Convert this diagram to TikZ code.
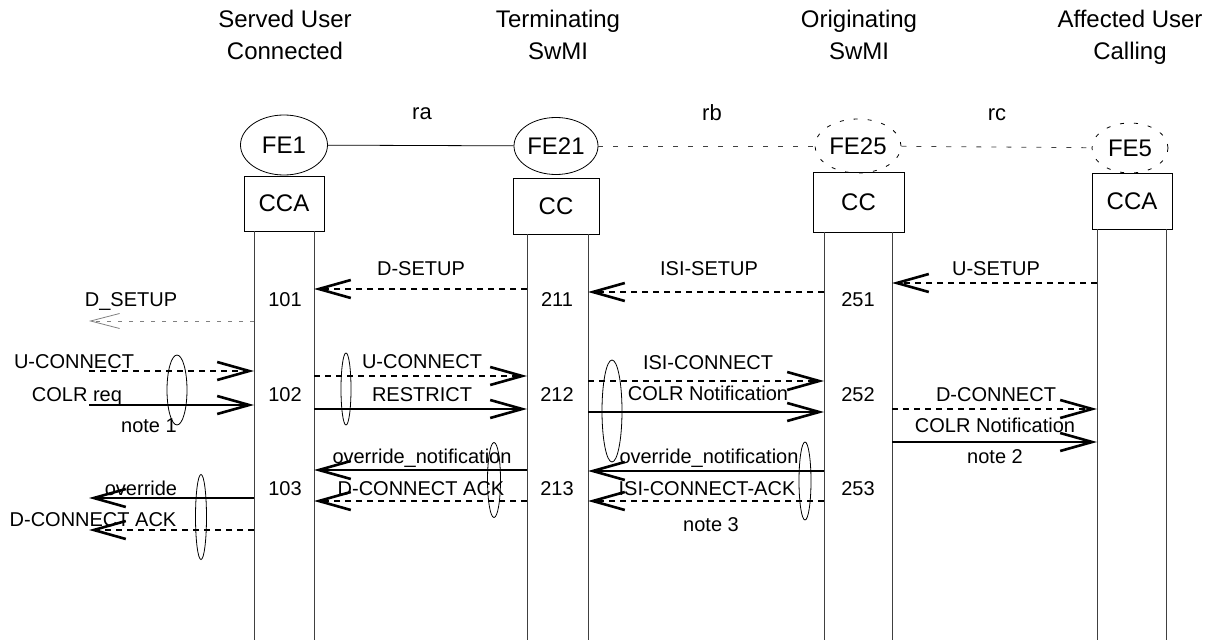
\documentclass[tikz,border=0pt]{standalone}
\usepackage{fontspec}
\setmainfont{Liberation Sans}
\usetikzlibrary{arrows.meta,shapes.geometric}

\begin{document}
\begin{tikzpicture}[x=1pt,y=-1pt,
	every node/.style={inner sep=0pt,font=\fontsize{20}{24}\selectfont},
	title/.style={align=center,anchor=north,font=\fontsize{24}{32}\selectfont},
	rlbl/.style={anchor=base,font=\fontsize{22}{26}\selectfont},
	fe/.style={ellipse,draw,line width=0.8pt,font=\fontsize{24}{28}\selectfont},
	fedash/.style={fe,dash pattern=on 4pt off 10pt},
	fbox/.style={rectangle,draw,line width=0.8pt,font=\fontsize{24}{28}\selectfont},
	life/.style={line width=0.8pt,black!75},
	note/.style={ellipse,draw,line width=0.8pt},
	lbl/.style={anchor=base},
	sig/.style={line width=2.6pt,-{Straight Barb[length=32pt,width=18pt]}},
	sigdash/.style={sig,dash pattern=on 6pt off 5pt},
	faint/.style={line width=0.8pt,gray,dash pattern=on 4pt off 7pt,
		-{Straight Barb[length=29pt,width=15pt]}}]

	\useasboundingbox (0,0) rectangle (1224,644);

	% entities
	\node (tSU) [title] at (285,10) {Served User\\Connected};
	\node (tTS) [title] at (558,10) {Terminating\\SwMI};
	\node (tOS) [title] at (859,10) {Originating\\SwMI};
	\node (tAU) [title] at (1130,10) {Affected User\\Calling};

	\node (fe1) [fe,minimum width=87pt,minimum height=60pt] at (284,145) {FE1};
	\node (fe21) [fe,minimum width=84pt,minimum height=57pt] at (556,146) {FE21};
	\node (fe25) [fedash,minimum width=86pt,minimum height=54pt] at (858,146) {FE25};
	\node (fe5) [fedash,minimum width=76pt,minimum height=50pt] at (1130,148) {FE5};

	\node (cca1) [fbox,minimum width=80pt,minimum height=55pt] at (284,203.5) {CCA};
	\node (cc21) [fbox,minimum width=86pt,minimum height=56pt] at (556,206) {CC};
	\node (cc25) [fbox,minimum width=91pt,minimum height=60pt] at (858.5,202) {CC};
	\node (cca5) [fbox,minimum width=80pt,minimum height=56pt] at (1132,201) {CCA};

	\node (ra) [rlbl] at (422,120) {ra};
	\node (rb) [rlbl] at (712,121) {rb};
	\node (rc) [rlbl] at (997,121) {rc};

	\draw[line width=0.8pt] (fe1) -- (fe21);
	\draw[line width=0.8pt,black!75,dash pattern=on 5pt off 10pt] (fe21) -- (fe25);
	\draw[line width=0.8pt,black!75,dash pattern=on 5pt off 10pt] (fe25) -- (fe5);

	% lifelines
	\coordinate (l1a) at (254,640);
	\coordinate (l1b) at (314,640);
	\coordinate (l2a) at (527,640);
	\coordinate (l2b) at (588,640);
	\coordinate (l3a) at (824,640);
	\coordinate (l3b) at (892,640);
	\coordinate (l4a) at (1097,640);
	\coordinate (l4b) at (1166,640);
	\coordinate (ext) at (89,0);

	\draw[life] (l1a |- cca1.south) -- (l1a);
	\draw[life] (l1b |- cca1.south) -- (l1b);
	\draw[life] (l2a |- cc21.south) -- (l2a);
	\draw[life] (l2b |- cc21.south) -- (l2b);
	\draw[life] (l3a |- cc25.south) -- (l3a);
	\draw[life] (l3b |- cc25.south) -- (l3b);
	\draw[life] (l4a |- cca5.south) -- (l4a);
	\draw[life] (l4b |- cca5.south) -- (l4b);

	% setup
	\draw[sigdash] (l2a |- 0,289) -- (l1b |- 0,289);
	\draw[sigdash] (l3a |- 0,292) -- (l2b |- 0,292);
	\draw[sigdash] (l4a |- 0,283) -- (l3b |- 0,283);
	\draw[faint] (l1a |- 0,321) -- (ext |- 0,321);
	\node (mDs) [lbl] at (421,276) {D-SETUP};
	\node (mIs) [lbl] at (709,276) {ISI-SETUP};
	\node (mUs) [lbl] at (996,276) {U-SETUP};
	\node (mDs0) [lbl] at (131,307) {D\_SETUP};
	\node (n101) [lbl] at (285,307) {101};
	\node (n211) [lbl] at (557,307) {211};
	\node (n251) [lbl] at (858,307) {251};

	% connect
	\draw[sigdash] (ext |- 0,371) -- (l1a |- 0,371);
	\draw[sig] (ext |- 0,405) -- (l1a |- 0,405);
	\draw[sigdash] (l1b |- 0,376) -- (l2a |- 0,376);
	\draw[sig] (l1b |- 0,409) -- (l2a |- 0,409);
	\draw[sigdash] (l2b |- 0,381) -- (l3a |- 0,381);
	\draw[sig] (l2b |- 0,412) -- (l3a |- 0,412);
	\draw[sigdash] (l3b |- 0,409) -- (l4a |- 0,409);
	\draw[sig] (l3b |- 0,442) -- (l4a |- 0,442);
	\node (mUc0) [lbl] at (74,369) {U-CONNECT};
	\node (mCr) [lbl] at (77,402) {COLR req};
	\node (nt1) [lbl] at (149,432) {note 1};
	\node (n102) [lbl] at (285,402) {102};
	\node (mUc) [lbl] at (422,369) {U-CONNECT};
	\node (mRs) [lbl] at (422,401) {RESTRICT};
	\node (n212) [lbl] at (557,402) {212};
	\node (mIc) [lbl] at (708,370) {ISI-CONNECT};
	\node (mCn) [lbl] at (708,400) {COLR Notification};
	\node (n252) [lbl] at (858,402) {252};
	\node (mDc) [lbl] at (996,401) {D-CONNECT};
	\node (mCn5) [lbl] at (995,432) {COLR Notification};
	\node (nt2) [lbl] at (995,463) {note 2};

	% connect ack
	\draw[sig] (l2a |- 0,470) -- (l1b |- 0,470);
	\draw[sigdash] (l2a |- 0,501) -- (l1b |- 0,501);
	\draw[sig] (l3a |- 0,471) -- (l2b |- 0,471);
	\draw[sigdash] (l3a |- 0,501) -- (l2b |- 0,501);
	\draw[sig] (l1a |- 0,498) -- (ext |- 0,498);
	\draw[sigdash] (l1a |- 0,530) -- (ext |- 0,530);
	\node (mOn) [lbl] at (422,463) {override\_notification};
	\node (mDa) [lbl] at (421,495) {D-CONNECT ACK};
	\node (n213) [lbl] at (557,495) {213};
	\node (mOn25) [lbl] at (709,463) {override\_notification};
	\node (mIa) [lbl] at (707,495) {ISI-CONNECT-ACK};
	\node (nt3) [lbl] at (711,531) {note 3};
	\node (n253) [lbl] at (858,495) {253};
	\node (mOv) [lbl] at (141,495) {override};
	\node (mDa0) [lbl] at (93,526) {D-CONNECT ACK};
	\node (n103) [lbl] at (285,495) {103};

	% note rings
	\node (r1) [note,minimum width=20pt,minimum height=70pt] at (177,390) {};
	\node (r2) [note,minimum width=10pt,minimum height=72pt] at (346,389) {};
	\node (r3) [note,minimum width=20pt,minimum height=102pt] at (612,411) {};
	\node (r4) [note,minimum width=13pt,minimum height=75pt] at (494,480) {};
	\node (r5) [note,minimum width=12pt,minimum height=78pt] at (805,481) {};
	\node (r6) [note,minimum width=11pt,minimum height=85pt] at (201,517) {};
\end{tikzpicture}
\end{document}
